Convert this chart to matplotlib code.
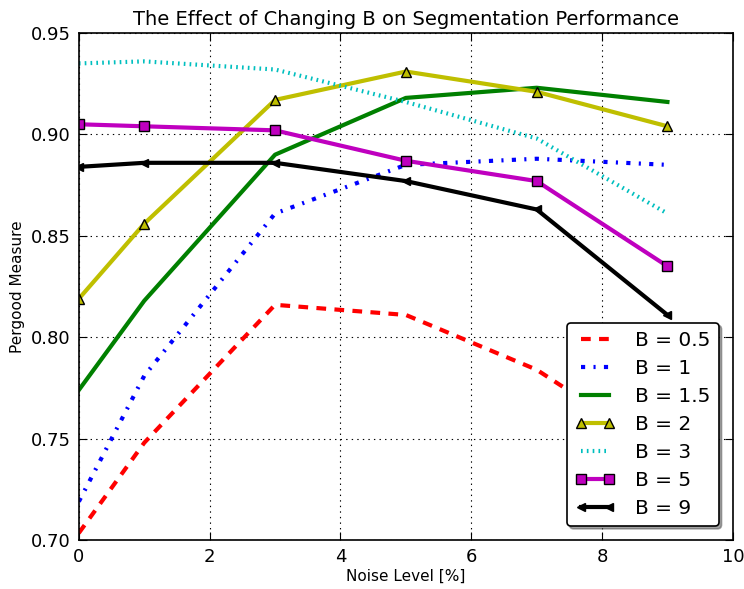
import numpy as np
import matplotlib
matplotlib.use('Agg')
import matplotlib.pyplot as plt

noise = [0, 1, 3, 5, 7, 9]

b_05 = [0.7035, 0.748, 0.816, 0.811, 0.784, 0.742]
b_1 = [0.719, 0.781, 0.861, 0.885, 0.888, 0.885]
b_15 = [0.774, 0.818, 0.890, 0.918, 0.923, 0.916]
b_2 = [0.819, 0.856, 0.917, 0.931, 0.921, 0.904]
b_3 = [0.935, 0.936, 0.934, 0.932, 0.916, 0.898, 0.861]
b_3_x = [0, 1, 2, 3, 5, 7, 9]
b_5 = [0.905, 0.904, 0.902, 0.887, 0.877, 0.835]
b_9 = [0.884, 0.886, 0.886, 0.877, 0.863, 0.811]

plt.rcParams['font.family'] = 'DejaVu Sans'
plt.rcParams['xtick.direction'] = 'in'
plt.rcParams['ytick.direction'] = 'in'
plt.rcParams['xtick.major.size'] = 6
plt.rcParams['ytick.major.size'] = 6
# old-style dashes, not scaled with line width
plt.rcParams['lines.scale_dashes'] = False
plt.rcParams['lines.dashed_pattern'] = [7, 6]
plt.rcParams['lines.dashdot_pattern'] = [3, 6, 1.5, 6]
plt.rcParams['lines.dotted_pattern'] = [1.2, 3]
plt.rcParams['lines.dash_capstyle'] = 'butt'

fig = plt.figure(figsize=(7.44, 5.89), dpi=100)
ax = fig.add_axes([0.106, 0.083, 0.879, 0.861])

lw = 3
ax.plot(noise, b_05, 'r--', lw=lw, label='B = 0.5')
ax.plot(noise, b_1, 'b-.', lw=lw, label='B = 1')
ax.plot(noise, b_15, 'g-', lw=lw, label='B = 1.5')
ax.plot(noise, b_2, 'y-^', lw=lw, ms=7.5, mec='k', label='B = 2')
ax.plot(b_3_x, b_3, 'c:', lw=lw, label='B = 3')
ax.plot(noise, b_5, 'm-s', lw=lw, ms=7, mec='k', label='B = 5')
ax.plot(noise, b_9, 'k-<', lw=lw, ms=6, label='B = 9')

ax.set_xlim(0, 10)
ax.set_ylim(0.70, 0.95)
ax.set_xticks([0, 2, 4, 6, 8, 10])
ax.set_yticks([0.70, 0.75, 0.80, 0.85, 0.90, 0.95])
ax.set_yticklabels(['0.70', '0.75', '0.80', '0.85', '0.90', '0.95'])
ax.tick_params(labelsize=13, top=True, right=True, pad=6)
ax.grid(True, color='k', linestyle=(0, (1, 3)), lw=0.8)
for s in ax.spines.values():
    s.set_linewidth(1.2)

ax.set_xlabel('Noise Level [%]', fontsize=11, labelpad=2)
ax.set_ylabel('Pergood Measure', fontsize=11)
ax.set_title('The Effect of Changing B on Segmentation Performance', fontsize=14)

leg = ax.legend(loc='lower right', fontsize=14.5, numpoints=2, fancybox=True,
                shadow=True, framealpha=1, edgecolor='k', handlelength=2.0,
                borderaxespad=0.7, labelspacing=0.45, handletextpad=1.0)
leg.get_frame().set_linewidth(1.2)

fig.savefig('out.png', dpi=100)
